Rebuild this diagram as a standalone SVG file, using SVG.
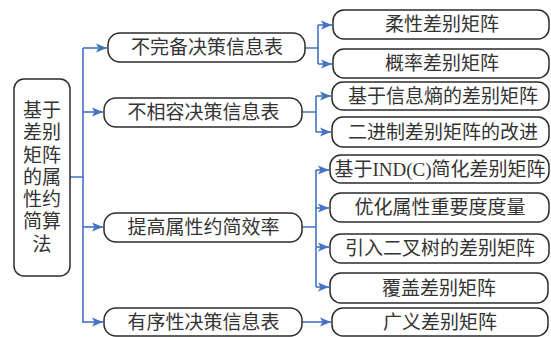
<svg xmlns="http://www.w3.org/2000/svg" width="551" height="337" viewBox="0 0 551 337">
<defs>
<style>
.box{fill:#fff;stroke:#2b2b2b;stroke-width:1.5}
.t{font-family:"Liberation Serif","Noto Sans CJK SC",serif;font-size:19px;fill:#333;text-anchor:middle;dominant-baseline:central}
.c{fill:none;stroke:#4472c4;stroke-width:1.6}
</style>
<marker id="ar" markerWidth="12" markerHeight="10" refX="11" refY="5" orient="auto" markerUnits="userSpaceOnUse">
<path d="M0,0.5 L11,5 L0,9.5 L2.5,5 Z" fill="#4472c4"/>
</marker>
</defs>
<rect width="551" height="337" fill="#fff"/>
<g id="connectors">
<path class="c" d="M70,177 H83 M83,48 V323"/>
<path class="c" d="M83,48 H107" marker-end="url(#ar)"/>
<path class="c" d="M83,112 H103" marker-end="url(#ar)"/>
<path class="c" d="M83,227 H103" marker-end="url(#ar)"/>
<path class="c" d="M83,322 H103" marker-end="url(#ar)"/>
<path class="c" d="M305,48 H318 M318,25 V64"/>
<path class="c" d="M318,25 H332" marker-end="url(#ar)"/>
<path class="c" d="M318,64 H332" marker-end="url(#ar)"/>
<path class="c" d="M302,112 H316 M316,96 V132"/>
<path class="c" d="M316,96 H331" marker-end="url(#ar)"/>
<path class="c" d="M316,132 H331" marker-end="url(#ar)"/>
<path class="c" d="M302,227 H316 M316,170 V287"/>
<path class="c" d="M316,170 H329" marker-end="url(#ar)"/>
<path class="c" d="M316,208 H329" marker-end="url(#ar)"/>
<path class="c" d="M316,247 H329" marker-end="url(#ar)"/>
<path class="c" d="M316,287 H329" marker-end="url(#ar)"/>
<path class="c" d="M302,322 H331" marker-end="url(#ar)"/>
</g>
<g id="root">
<rect class="box" x="14" y="79" width="56" height="197" rx="10"/>
<text class="t" x="42" y="110.5">基于</text>
<text class="t" x="42" y="132.8">差别</text>
<text class="t" x="42" y="155">矩阵</text>
<text class="t" x="42" y="177.3">的属</text>
<text class="t" x="42" y="199.6">性约</text>
<text class="t" x="42" y="221.9">简算</text>
<text class="t" x="42" y="244.2">法</text>
</g>
<g id="n1"><rect class="box" x="108" y="33" width="197" height="29" rx="12"/><text class="t" x="207" y="47.5">不完备决策信息表</text></g>
<g id="n2"><rect class="box" x="104" y="98" width="198" height="29" rx="12"/><text class="t" x="203.5" y="112.5">不相容决策信息表</text></g>
<g id="n3"><rect class="box" x="104" y="213" width="198" height="29" rx="12"/><text class="t" x="203.5" y="227.5">提高属性约简效率</text></g>
<g id="n4"><rect class="box" x="104" y="308" width="198" height="28" rx="12"/><text class="t" x="203.5" y="322.5">有序性决策信息表</text></g>
<g id="m1"><rect class="box" x="333" y="10" width="216" height="29" rx="11"/><text class="t" x="442" y="24.5">柔性差别矩阵</text></g>
<g id="m2"><rect class="box" x="333" y="49" width="216" height="29" rx="11"/><text class="t" x="442" y="63.5">概率差别矩阵</text></g>
<g id="m3"><rect class="box" x="332" y="82" width="217" height="28" rx="11"/><text class="t" x="443" y="96">基于信息熵的差别矩阵</text></g>
<g id="m4"><rect class="box" x="332" y="117" width="217" height="30" rx="11"/><text class="t" x="443" y="132">二进制差别矩阵的改进</text></g>
<g id="m5"><rect class="box" x="330" y="155" width="219" height="28" rx="11"/><text class="t" x="440" y="169">基于IND(C)简化差别矩阵</text></g>
<g id="m6"><rect class="box" x="330" y="193" width="219" height="29" rx="11"/><text class="t" x="440" y="207.5">优化属性重要度度量</text></g>
<g id="m7"><rect class="box" x="330" y="234" width="219" height="29" rx="11"/><text class="t" x="440" y="248.5">引入二叉树的差别矩阵</text></g>
<g id="m8"><rect class="box" x="330" y="273" width="218" height="30" rx="11"/><text class="t" x="439" y="288">覆盖差别矩阵</text></g>
<g id="m9"><rect class="box" x="332" y="308" width="216" height="28" rx="11"/><text class="t" x="440" y="322.5">广义差别矩阵</text></g>
</svg>
